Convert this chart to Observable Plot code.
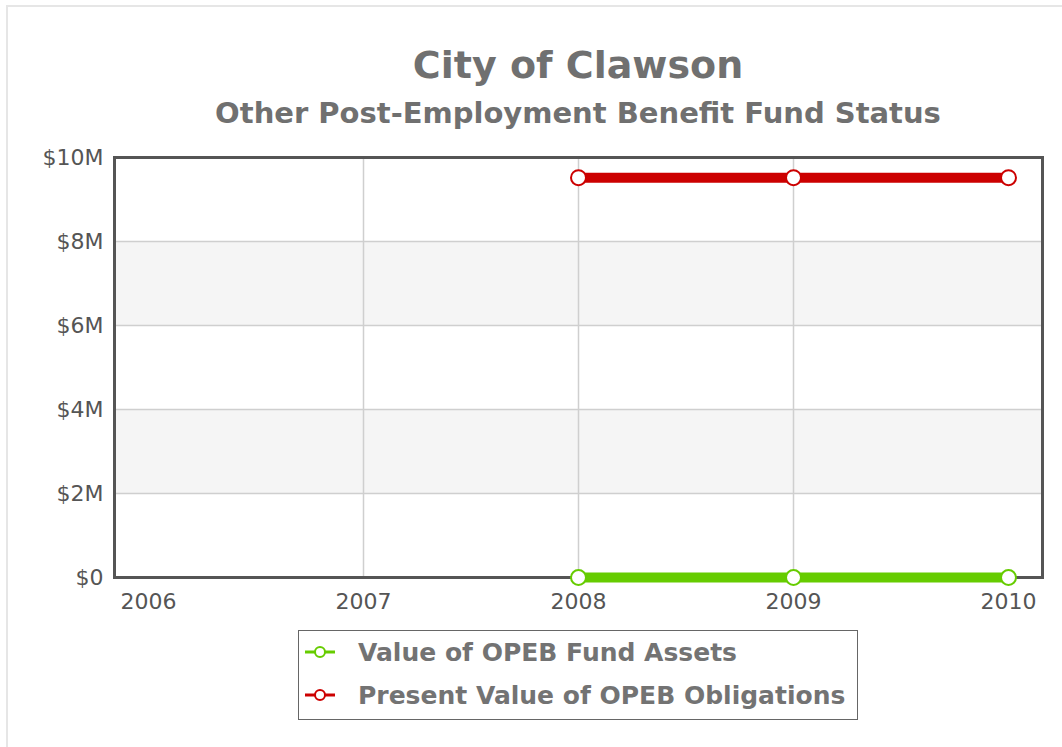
<!DOCTYPE html>
<html>
<head>
<meta charset="utf-8">
<script src="https://cdn.jsdelivr.net/npm/d3@7"></script>
<script src="https://cdn.jsdelivr.net/npm/@observablehq/plot@0.6"></script>
<style>
  body { margin: 0; background: #fff; font-family: "DejaVu Sans", Verdana, sans-serif; }
  #wrap { position: relative; width: 1062px; height: 747px; overflow: hidden; background: #fff; }
  #frameline { position: absolute; left: 6px; top: 5px; width: 1100px; height: 800px;
    border-left: 2px solid #e6e6e6; border-top: 2px solid #e6e6e6; }
  #header { position: relative; height: 140px; }
  .title { position: absolute; left: 0; width: 1156px; text-align: center; font-weight: bold; color: #707070; white-space: nowrap; }
  #t1 { top: 46px; font-size: 38px; line-height: 38px; }
  #t2 { top: 99px; font-size: 29px; line-height: 29px; }
  #chart { position: relative; }
  #legend { position: absolute; left: 298px; top: 630px; width: 558px; height: 88px;
    border: 1.5px solid #666; background: #fff; }
  .item { position: absolute; left: 6px; height: 30px; display: flex; align-items: center; white-space: nowrap; }
  .item span { margin-left: 23px; font-size: 25px; font-weight: bold; color: #737373; }
</style>
</head>
<body>
<div id="wrap">
  <div id="frameline"></div>
  <div id="header">
    <div class="title" id="t1"></div>
    <div class="title" id="t2"></div>
  </div>
  <div id="chart"></div>
  <div id="legend"></div>
</div>
<script>
// ---- data ----
const titleText = "City of Clawson";
const subtitleText = "Other Post-Employment Benefit Fund Status";
const years = [2006, 2007, 2008, 2009, 2010];
const gridYears = [2007, 2008, 2009];
const dataYears = [2008, 2009, 2010];
const fundAssets = [0, 0, 0];
const obligations = [9.52e6, 9.52e6, 9.52e6];
const yTicks = [0, 2e6, 4e6, 6e6, 8e6, 10e6];
const yTickLabels = ["$0", "$2M", "$4M", "$6M", "$8M", "$10M"];
const seriesNames = ["Value of OPEB Fund Assets", "Present Value of OPEB Obligations"];
const seriesColors = ["#66cc00", "#cc0000"];
const bandStarts = [2e6, 6e6];
const bandEnds = [4e6, 8e6];

document.getElementById("t1").textContent = titleText;
document.getElementById("t2").textContent = subtitleText;

const rows = [];
dataYears.forEach((yr, i) => {
  rows.push({year: yr, value: fundAssets[i], series: seriesNames[0]});
  rows.push({year: yr, value: obligations[i], series: seriesNames[1]});
});
const bands = bandStarts.map((s, i) => ({y1: s, y2: bandEnds[i]}));

const chart = Plot.plot({
  width: 1062,
  height: 480,
  marginTop: 17,
  marginBottom: 43,
  marginLeft: 114,
  marginRight: 20,
  style: {fontFamily: "'DejaVu Sans', Verdana, sans-serif", fontSize: "22px", color: "#555", background: "transparent", overflow: "visible"},
  x: {domain: [2006, 2010], inset: 34, label: null},
  y: {domain: [0, 10e6], label: null},
  color: {domain: seriesNames, range: seriesColors},
  marks: [
    Plot.rect(bands, {y1: "y1", y2: "y2", fill: "#f5f5f5"}),
    Plot.ruleY(yTicks.slice(1, -1), {stroke: "#cfcfcf", strokeWidth: 1.5}),
    Plot.ruleX(gridYears, {stroke: "#cfcfcf", strokeWidth: 1.5}),
    Plot.frame({stroke: "#555", strokeWidth: 3}),
    Plot.line(rows, {x: "year", y: "value", z: "series", stroke: "series", strokeWidth: 10, clip: false}),
    Plot.dot(rows, {x: "year", y: "value", stroke: "series", fill: "white", r: 7.5, strokeWidth: 2}),
    Plot.axisX(years, {tickSize: 0, tickPadding: 16, tickFormat: d => String(d), fill: "#555", label: null}),
    Plot.axisY(yTicks, {tickSize: 0, tickPadding: 11, tickFormat: d => yTickLabels[yTicks.indexOf(d)], fill: "#555", label: null})
  ]
});
document.getElementById("chart").appendChild(chart);

// legend
const legend = document.getElementById("legend");
const rowTops = [6, 49];
seriesNames.forEach((name, i) => {
  const item = document.createElement("div");
  item.className = "item";
  item.style.top = rowTops[i] + "px";
  const ns = "http://www.w3.org/2000/svg";
  const sw = document.createElementNS(ns, "svg");
  sw.setAttribute("width", 30); sw.setAttribute("height", 16);
  const ln = document.createElementNS(ns, "line");
  ln.setAttribute("x1", 0); ln.setAttribute("x2", 30); ln.setAttribute("y1", 8); ln.setAttribute("y2", 8);
  ln.setAttribute("stroke", seriesColors[i]); ln.setAttribute("stroke-width", 3);
  const c = document.createElementNS(ns, "circle");
  c.setAttribute("cx", 15); c.setAttribute("cy", 8); c.setAttribute("r", 5);
  c.setAttribute("fill", "white"); c.setAttribute("stroke", seriesColors[i]); c.setAttribute("stroke-width", 2);
  sw.appendChild(ln); sw.appendChild(c);
  const t = document.createElement("span");
  t.textContent = name;
  item.appendChild(sw); item.appendChild(t);
  legend.appendChild(item);
});
</script>
</body>
</html>
